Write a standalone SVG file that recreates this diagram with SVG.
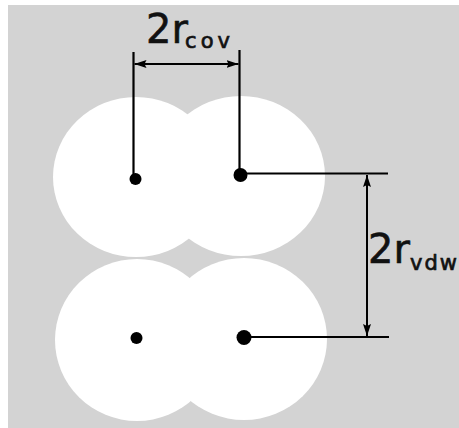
<svg xmlns="http://www.w3.org/2000/svg" width="459" height="428" viewBox="0 0 459 428">
  <style>
    .atom { fill: #ffffff; stroke: none; }
    .dot { fill: #000000; }
    .line { stroke: #000000; stroke-width: 2.2; fill: none; }
    .dim { stroke: #000000; stroke-width: 2; fill: none; }
    .big { font-family: "DejaVu Sans", sans-serif; font-size: 40px; fill: #111111; stroke: #111111; stroke-width: 0.6; }
    .sub { font-family: "DejaVu Sans", sans-serif; font-size: 21px; fill: #111111; stroke: #111111; stroke-width: 0.7; }
  </style>
  <defs>
    <marker id="arrow" viewBox="0 0 12 8" refX="12" refY="4" markerWidth="12" markerHeight="8" markerUnits="userSpaceOnUse" orient="auto-start-reverse">
      <path d="M0,0 L12,4 L0,8 L2,4 Z" fill="#000000"/>
    </marker>
  </defs>
  <rect x="8" y="5" width="451" height="423" fill="#d3d3d3"/>
  <g id="atoms">
    <g id="atom-top-left"><ellipse class="atom" cx="136" cy="177" rx="83" ry="80"/></g>
    <g id="atom-top-right"><ellipse class="atom" cx="241" cy="176" rx="84" ry="80"/></g>
    <g id="atom-bottom-left"><ellipse class="atom" cx="137" cy="340" rx="82" ry="81"/></g>
    <g id="atom-bottom-right"><ellipse class="atom" cx="244" cy="339" rx="83" ry="81"/></g>
  </g>
  <g id="connectors">
    <line class="line" x1="133.5" y1="52" x2="133.5" y2="179"/>
    <line class="line" x1="239.5" y1="50" x2="239.5" y2="175"/>
    <line class="dim" x1="134.5" y1="64" x2="238.5" y2="64" marker-start="url(#arrow)" marker-end="url(#arrow)"/>
    <line class="line" x1="241" y1="173.5" x2="388" y2="173.5"/>
    <line class="line" x1="244" y1="337" x2="389" y2="337"/>
    <line class="dim" x1="367" y1="175" x2="367" y2="336" marker-start="url(#arrow)" marker-end="url(#arrow)"/>
  </g>
  <g id="nuclei">
    <circle class="dot" cx="135.5" cy="179" r="6"/>
    <circle class="dot" cx="240.5" cy="175" r="7"/>
    <circle class="dot" cx="136.5" cy="338" r="6"/>
    <circle class="dot" cx="244" cy="337.5" r="7.5"/>
  </g>
  <g id="label-cov">
    <text class="big" x="146" y="43">2r</text>
    <text class="sub" x="185" y="48" textLength="45" lengthAdjust="spacing">cov</text>
  </g>
  <g id="label-vdw">
    <text class="big" x="368" y="263">2r</text>
    <text class="sub" x="410" y="270" textLength="47" lengthAdjust="spacing">vdw</text>
  </g>
</svg>
